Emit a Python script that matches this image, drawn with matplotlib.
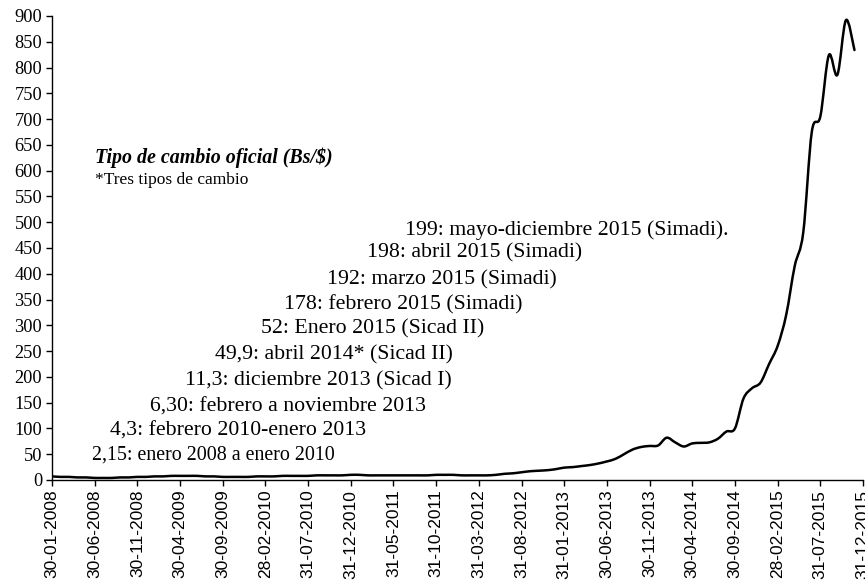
import numpy as np
import matplotlib
matplotlib.use("Agg")
import matplotlib.pyplot as plt
from matplotlib.path import Path
from matplotlib.patches import PathPatch

# tipo de cambio paralelo, fin de mes (ene-2008 .. nov-2015)
rate = [7, 6, 6, 5, 5, 4, 4, 4, 5, 5, 6, 6,            # 2008
        7, 7, 8, 8, 8, 8, 7, 7, 6, 6, 6, 6,            # 2009
        7, 7, 7, 8, 8, 8, 8, 9, 9, 9, 9, 10,           # 2010
        10, 9, 9, 9, 9, 9, 9, 9, 9, 10, 10, 10,        # 2011
        9, 9, 9, 9, 10, 12, 13, 15, 17, 18, 19, 21,    # 2012
        24, 25, 27, 29, 32, 36, 41, 50, 59, 64, 66, 67,  # 2013
        82, 73, 65, 71, 72, 73, 80, 94, 100, 158, 178, 189,  # 2014
        225, 260, 320, 415, 480, 675, 705, 824, 786, 892, 834]  # 2015

tick_labels = ["30-01-2008", "30-06-2008", "30-11-2008", "30-04-2009", "30-09-2009",
               "28-02-2010", "31-07-2010", "31-12-2010", "31-05-2011", "31-10-2011",
               "31-03-2012", "31-08-2012", "31-01-2013", "30-06-2013", "30-11-2013",
               "30-04-2014", "30-09-2014", "28-02-2015", "31-07-2015", "31-12-2015"]

notes = ["2,15: enero 2008 a enero 2010",
         "4,3: febrero 2010-enero 2013",
         "6,30: febrero a noviembre 2013",
         "11,3: diciembre 2013 (Sicad I)",
         "49,9: abril 2014* (Sicad II)",
         "52: Enero 2015 (Sicad II)",
         "178: febrero 2015 (Simadi)",
         "192: marzo 2015 (Simadi)",
         "198: abril 2015 (Simadi)",
         "199: mayo-diciembre 2015 (Simadi)."]


def smooth_path(x, y):
    # curva suavizada tipo Excel (bezier por los puntos)
    pts = np.column_stack([x, y]).astype(float)
    n = len(pts)
    verts = [pts[0]]
    codes = [Path.MOVETO]
    for i in range(n - 1):
        p0 = pts[i - 1] if i > 0 else pts[i]
        p1 = pts[i]
        p2 = pts[i + 1]
        p3 = pts[i + 2] if i + 2 < n else pts[i + 1]
        c1 = p1 + (p2 - p0) / 6.0
        c2 = p2 - (p3 - p1) / 6.0
        verts += [c1, c2, p2]
        codes += [Path.CURVE4] * 3
    return Path(verts, codes)


serif = "Liberation Serif"
sans = "Liberation Sans"

fig = plt.figure(figsize=(8.65, 5.82), dpi=100)
ax = fig.add_axes([52 / 865, 1 - 480 / 582, 811 / 865, 464 / 582])

x = np.arange(len(rate))
ax.add_patch(PathPatch(smooth_path(x, rate), fill=False, edgecolor="black", lw=1.8,
                       capstyle="round", joinstyle="round"))

ax.set_xlim(0, 95)
ax.set_ylim(0, 900)
ax.set_yticks(np.arange(0, 901, 50))
ax.set_xticks(np.arange(0, 96, 5))
ax.set_xticklabels(tick_labels, rotation=90, fontsize=12.5, family=sans)
for lab in ax.get_yticklabels():
    lab.set_fontfamily(serif)
    lab.set_fontsize(13.2)

for s in ["top", "right"]:
    ax.spines[s].set_visible(False)
for s in ["left", "bottom"]:
    ax.spines[s].set_color("black")
    ax.spines[s].set_linewidth(1.0)
ax.tick_params(axis="both", direction="out", length=4, width=1.0, colors="black", pad=3)

# anotaciones (tipos de cambio oficiales)
note_pos = [(92, 455), (110, 431), (150, 407), (185, 381), (215, 355),
            (261, 329), (284, 305), (327, 280), (367, 253), (405, 230)]
for txt, (px, py) in zip(notes, note_pos):
    size = 14.4 if txt.startswith("2,15") else 15.7
    fig.text(px / 865, 1 - py / 582, txt, family=serif, fontsize=size,
             ha="left", va="center")

fig.text(95 / 865, 1 - 158 / 582, "Tipo de cambio oficial (Bs/$)", family=serif,
         fontsize=14.4, fontweight="bold", fontstyle="italic", ha="left", va="center")
fig.text(95 / 865, 1 - 180 / 582, "*Tres tipos de cambio", family=serif,
         fontsize=12.5, ha="left", va="center")

fig.savefig("out.png", dpi=100)
